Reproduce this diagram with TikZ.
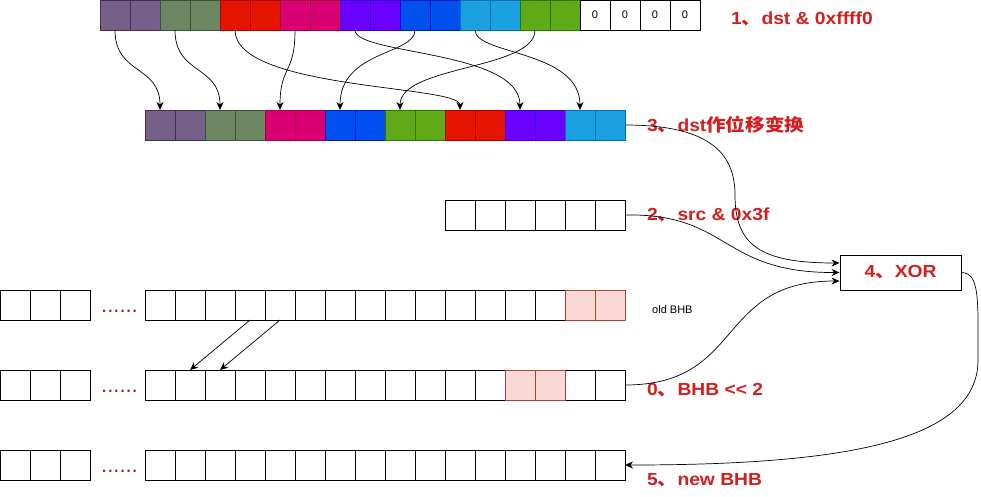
\documentclass[tikz,border=0pt]{standalone}
\usepackage{fontspec}
\setmainfont{Liberation Sans}
\newfontfamily\lblfont{Liberation Sans}[FakeStretch=1.1, BoldFeatures={FakeStretch=1.1}]
\newfontfamily\cjk{Noto Sans CJK SC}[FakeStretch=1.12, BoldFeatures={FakeStretch=1.12}]
\newcommand\dun{{\cjk 、}}
\usetikzlibrary{arrows.meta}
\definecolor{cPur}{HTML}{76608A}\definecolor{dPur}{HTML}{432D57}
\definecolor{cGry}{HTML}{6D8764}\definecolor{dGry}{HTML}{3A5431}
\definecolor{cRed}{HTML}{E51400}\definecolor{dRed}{HTML}{B20000}
\definecolor{cMag}{HTML}{D80073}\definecolor{dMag}{HTML}{A50040}
\definecolor{cVio}{HTML}{6A00FF}\definecolor{dVio}{HTML}{3700CC}
\definecolor{cBlu}{HTML}{0050EF}\definecolor{dBlu}{HTML}{001DBC}
\definecolor{cLBl}{HTML}{1BA1E2}\definecolor{dLBl}{HTML}{006EAF}
\definecolor{cGrn}{HTML}{60A917}\definecolor{dGrn}{HTML}{2D7600}
\definecolor{cPnk}{HTML}{FAD9D5}\definecolor{dPnk}{HTML}{AE4132}
\definecolor{lblred}{RGB}{212,30,30}
\tikzset{
  cell/.style={draw, minimum width=30pt, minimum height=30pt, inner sep=0pt, outer sep=0pt, line width=0.9pt, font=\fontsize{11}{12}\selectfont},
  lbl/.style={text=lblred, font=\lblfont\bfseries\fontsize{17.5}{20}\selectfont, anchor=west, inner sep=0pt},
  conn/.style={-{Stealth[length=8pt,width=7pt]}, line width=0.7pt},
  dots/.style={text=lblred!80!black, font=\fontsize{22}{22}\selectfont, inner sep=0pt, anchor=base}
}
\newcommand\tmedge[4]{\draw[conn] (#1.south) .. controls +(0,#3) and +(0,-#4) .. (#2.north);}
\begin{document}
\begin{tikzpicture}[x=1pt,y=-1pt]
\useasboundingbox (0,0) rectangle (981,496);
% top row
\foreach \c [count=\i from 0] in {Pur,Pur,Gry,Gry,Red,Red,Mag,Mag,Vio,Vio,Blu,Blu,LBl,LBl,Grn,Grn}
  \node[cell, fill=c\c, draw=d\c] (t\i) at ({115+30*\i},15) {};
\foreach \i in {16,...,19}
  \node[cell] (t\i) at ({115+30*\i},15) {0};
% permuted row
\foreach \c [count=\i from 0] in {Pur,Pur,Gry,Gry,Mag,Mag,Blu,Blu,Grn,Grn,Red,Red,Vio,Vio,LBl,LBl}
  \node[cell, fill=c\c, draw=d\c] (m\i) at ({160+30*\i},125) {};
% src row
\foreach \i in {0,...,5}
  \node[cell] (s\i) at ({460+30*\i},215) {};
% BHB rows
\foreach \r/\y in {o/305,n/385,w/465}{
  \foreach \i in {0,1,2}
    \node[cell] (\r l\i) at ({15+30*\i},\y) {};
  \node[dots] (\r d) at (119.5,{\y+7}) {......};
  \foreach \i in {0,...,15}
    \node[cell] (\r\i) at ({160+30*\i},\y) {};
}
\foreach \i in {14,15} \node[cell, fill=cPnk, draw=dPnk] (o\i) at ({160+30*\i},305) {};
\foreach \i in {12,13} \node[cell, fill=cPnk, draw=dPnk] (n\i) at ({160+30*\i},385) {};
% XOR box
\node[draw, line width=0.9pt, minimum width=121pt, minimum height=35pt, inner sep=0pt,
  text=lblred, font=\lblfont\bfseries\fontsize{17.5}{20}\selectfont] (xor) at (900.5,272.5) {4\dun XOR};
% labels
\node[lbl] (l1) at (731,19) {1\dun dst \& 0xffff0};
\node[lbl] (l3) at (647,125) {3\dun dst{\cjk 作位移变换}};
\node[lbl] (l2) at (647,215) {2\dun src \& 0x3f};
\node[anchor=west, inner sep=0pt, font=\fontsize{11}{12}\selectfont] (lo) at (652,310) {old BHB};
\node[lbl] (l0) at (647,390) {0\dun BHB <\kern0pt< 2};
\node[lbl] (l5) at (647,480) {5\dun new BHB};
% permutation arrows
\tmedge{t0}{m0}{45}{45}
\tmedge{t2}{m2}{45}{45}
\tmedge{t4}{m10}{60}{25}
\tmedge{t6}{m4}{45}{45}
\tmedge{t8}{m12}{25}{60}
\tmedge{t10}{m6}{25}{60}
\tmedge{t12}{m14}{25}{60}
\tmedge{t14}{m8}{40}{45}
% shift arrows
\draw[conn] (o3.south) -- (n1.north);
\draw[conn] (o4.south) -- (n2.north);
% to XOR
\draw[conn] (m15.east) .. controls (705,125) and (735,150) .. (735,195) .. controls (735,245) and (760,263) .. ([yshift=9.5pt]xor.west);
\draw[conn] (s5.east) .. controls (730,213) and (720,273) .. (xor.west);
\draw[conn] (n15.east) .. controls (745,385) and (715,281) .. ([yshift=-8.5pt]xor.west);
% XOR to new BHB
\draw[conn] (xor.east) .. controls (980,273) and (978,300) .. (978,360) .. controls (978,440) and (850,465) .. (w15.east);
\end{tikzpicture}
\end{document}
